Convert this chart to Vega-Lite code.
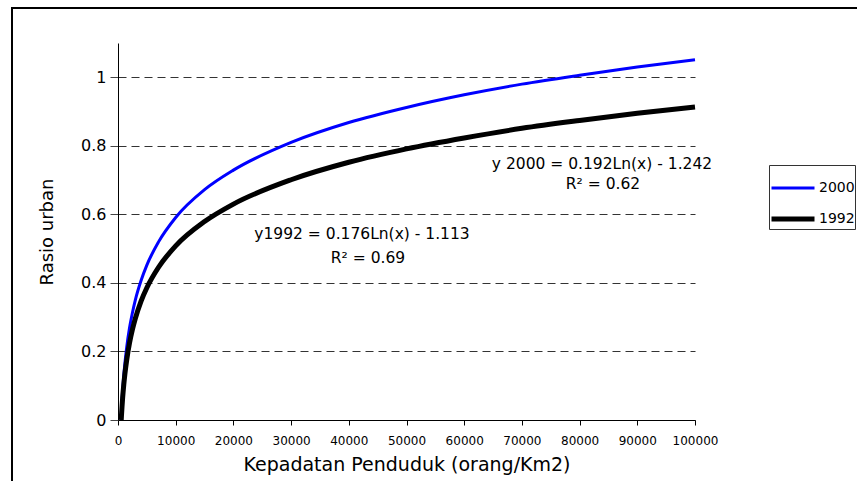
{
  "$schema": "https://vega.github.io/schema/vega-lite/v6.json",
  "width": 880,
  "height": 490,
  "autosize": {"type": "none"},
  "padding": {"left": 12, "top": 8, "right": 0, "bottom": 0},
  "background": "white",
  "config": {
    "view": {"stroke": "black", "strokeWidth": 2},
    "font": "DejaVu Sans"
  },
  "layer": [
    {
      "data": {
        "values": [
          {"series": "2000", "density": 522, "ratio": 0},
          {"series": "2000", "density": 600, "ratio": 0.028},
          {"series": "2000", "density": 700, "ratio": 0.059},
          {"series": "2000", "density": 800, "ratio": 0.085},
          {"series": "2000", "density": 1000, "ratio": 0.130},
          {"series": "2000", "density": 1200, "ratio": 0.166},
          {"series": "2000", "density": 1500, "ratio": 0.211},
          {"series": "2000", "density": 2000, "ratio": 0.269},
          {"series": "2000", "density": 2500, "ratio": 0.313},
          {"series": "2000", "density": 3000, "ratio": 0.350},
          {"series": "2000", "density": 4000, "ratio": 0.407},
          {"series": "2000", "density": 5000, "ratio": 0.452},
          {"series": "2000", "density": 7000, "ratio": 0.519},
          {"series": "2000", "density": 10000, "ratio": 0.591},
          {"series": "2000", "density": 15000, "ratio": 0.672},
          {"series": "2000", "density": 20000, "ratio": 0.729},
          {"series": "2000", "density": 30000, "ratio": 0.810},
          {"series": "2000", "density": 40000, "ratio": 0.868},
          {"series": "2000", "density": 50000, "ratio": 0.912},
          {"series": "2000", "density": 60000, "ratio": 0.949},
          {"series": "2000", "density": 70000, "ratio": 0.980},
          {"series": "2000", "density": 80000, "ratio": 1.006},
          {"series": "2000", "density": 90000, "ratio": 1.030},
          {"series": "2000", "density": 100000, "ratio": 1.051},
          {"series": "1992", "density": 558, "ratio": 0},
          {"series": "1992", "density": 600, "ratio": 0.013},
          {"series": "1992", "density": 700, "ratio": 0.040},
          {"series": "1992", "density": 800, "ratio": 0.064},
          {"series": "1992", "density": 1000, "ratio": 0.103},
          {"series": "1992", "density": 1200, "ratio": 0.135},
          {"series": "1992", "density": 1500, "ratio": 0.174},
          {"series": "1992", "density": 2000, "ratio": 0.225},
          {"series": "1992", "density": 2500, "ratio": 0.264},
          {"series": "1992", "density": 3000, "ratio": 0.296},
          {"series": "1992", "density": 4000, "ratio": 0.347},
          {"series": "1992", "density": 5000, "ratio": 0.386},
          {"series": "1992", "density": 7000, "ratio": 0.445},
          {"series": "1992", "density": 10000, "ratio": 0.508},
          {"series": "1992", "density": 15000, "ratio": 0.579},
          {"series": "1992", "density": 20000, "ratio": 0.630},
          {"series": "1992", "density": 30000, "ratio": 0.701},
          {"series": "1992", "density": 40000, "ratio": 0.752},
          {"series": "1992", "density": 50000, "ratio": 0.791},
          {"series": "1992", "density": 60000, "ratio": 0.823},
          {"series": "1992", "density": 70000, "ratio": 0.851},
          {"series": "1992", "density": 80000, "ratio": 0.874},
          {"series": "1992", "density": 90000, "ratio": 0.895},
          {"series": "1992", "density": 100000, "ratio": 0.913}
        ]
      },
      "mark": {"type": "line", "interpolate": "monotone", "strokeCap": "butt"},
      "encoding": {
        "x": {
          "field": "density",
          "type": "quantitative",
          "scale": {"domain": [0, 100000], "range": [106, 683], "nice": false, "zero": false},
          "axis": {
            "title": "Kepadatan Penduduk (orang/Km2)",
            "titleFont": "DejaVu Sans",
            "titleFontSize": 19,
            "titleFontWeight": "normal",
            "titleColor": "black",
            "titlePadding": 9,
            "values": [0, 10000, 20000, 30000, 40000, 50000, 60000, 70000, 80000, 90000, 100000],
            "format": "d",
            "labelFont": "DejaVu Sans",
            "labelFontSize": 12,
            "labelColor": "black",
            "labelPadding": 10,
            "labelFlush": false,
            "labelOverlap": false,
            "tickSize": 5,
            "tickColor": "black",
            "domainColor": "black",
            "grid": false,
            "offset": -78
          }
        },
        "y": {
          "field": "ratio",
          "type": "quantitative",
          "scale": {"domain": [0, 1.1], "range": [412, 35], "nice": false},
          "axis": {
            "title": "Rasio urban",
            "titleFont": "DejaVu Sans",
            "titleFontSize": 18,
            "titleFontWeight": "normal",
            "titleColor": "black",
            "titlePadding": 24,
            "values": [0, 0.2, 0.4, 0.6, 0.8, 1],
            "format": "~g",
            "labelFont": "DejaVu Sans",
            "labelFontSize": 16,
            "labelColor": "black",
            "labelPadding": 4,
            "tickSize": 8,
            "tickColor": "#444",
            "domainColor": "black",
            "grid": true,
            "gridDash": [8, 5],
            "gridColor": "#333",
            "gridWidth": 1,
            "offset": -106
          }
        },
        "color": {
          "field": "series",
          "type": "nominal",
          "scale": {"domain": ["2000", "1992"], "range": ["#0000ff", "#000000"]},
          "legend": {
            "title": null,
            "orient": "none",
            "legendX": 757,
            "legendY": 157,
            "strokeColor": "#333",
            "fillColor": "white",
            "padding": 0,
            "symbolType": "stroke",
            "symbolSize": 1849,
            "symbolStrokeWidth": 4,
            "labelFont": "DejaVu Sans",
            "labelFontSize": 14,
            "labelColor": "black",
            "labelOffset": 2,
            "rowPadding": -13,
            "encode": {
              "symbols": {"update": {"strokeWidth": {"signal": "datum.value === '1992' ? 5 : 3"}}}
            }
          }
        },
        "strokeWidth": {
          "field": "series",
          "type": "ordinal",
          "scale": {"domain": ["2000", "1992"], "range": [3, 5]},
          "legend": null
        }
      }
    },
    {
      "data": {
        "values": [
          {"density": 42290, "ratio": 0.543, "label": "y1992 = 0.176Ln(x) - 1.113"},
          {"density": 43330, "ratio": 0.474, "label": "R² = 0.69"},
          {"density": 83880, "ratio": 0.748, "label": "y 2000 = 0.192Ln(x) - 1.242"},
          {"density": 84060, "ratio": 0.689, "label": "R² = 0.62"}
        ]
      },
      "mark": {"type": "text", "font": "DejaVu Sans", "fontSize": 15.5, "align": "center", "baseline": "middle", "color": "black"},
      "encoding": {
        "x": {"field": "density", "type": "quantitative"},
        "y": {"field": "ratio", "type": "quantitative"},
        "text": {"field": "label", "type": "nominal"}
      }
    }
  ]
}
